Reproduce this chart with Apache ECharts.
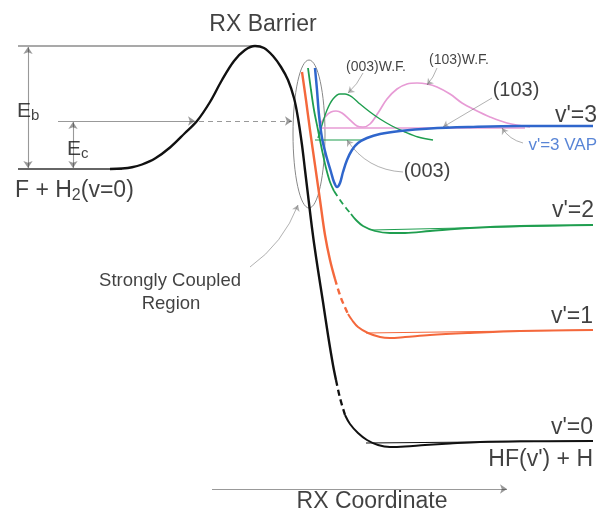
<!DOCTYPE html>
<html><head><meta charset="utf-8">
<script src="https://cdn.jsdelivr.net/npm/echarts@6/dist/echarts.min.js"></script>
<style>html,body{margin:0;padding:0;background:#fff}#c{width:598px;height:515px}</style>
</head><body><div id="c"></div>
<script>
// ---- data (x = reaction coordinate, y = energy; screen-like units, y axis inverted) ----
const reactantLevel = [[18,169],[122,169]];
const barrierTopLine = [[18,46],[252,46]];
const blackA = [[110,169],[122,168.5],[132,167.3],[142,164.5],[155,158.5],[170,147.5],[185,133],[197,121],[210,102],[222,80],[234,61],[245,50],[255,46],[264,48],[273,56],[281,67],[288,80],[294,98],[298,118],[302,145],[305,170],[308,195],[311,220],[314,243],[318,270],[323,302],[328,335],[333,365],[336,380]];
const blackB = [[336,380],[340,398],[345,415]];
const blackC = [[345,415],[350,424],[358,433],[367,440],[378,445],[390,447],[405,446.5],[425,445],[450,443.5],[480,442],[520,441.3],[593,441]];
const v0Line = [[366,443],[593,441]];
const orangeA = [[302,72],[306,100],[310,130],[315,165],[320,200],[325,235],[330,260],[335,279]];
const orangeB = [[335,279],[341,298],[348,314]];
const orangeC = [[348,314],[352,320],[358,327],[368,333],[380,337],[390,338],[405,337],[430,335],[470,333],[520,331],[593,330]];
const v1Line = [[366,333],[593,330]];
const greenA = [[308,68],[311,90],[314,110],[318,130],[322,150],[326,168],[330,182],[334,191]];
const greenB = [[334,191],[340,200],[346,208],[351,214]];
const greenC = [[351,214],[356,220],[363,226],[375,231],[390,233],[405,233],[430,231],[470,228],[520,226],[593,225]];
const v2Line = [[372,230],[593,225]];
const blueCurve = [[315,68],[317,90],[319,115],[322,138],[326,155],[331,172],[334,182],[337,187],[340,183],[343,172],[347,160],[352,150],[358,143],[367,138],[380,134],[400,131],[430,128.5],[470,127],[520,126],[593,126]];
const pinkBase = [[320,128],[525,128]];
const pinkWF = [[319,126],[326,116],[331,112],[336,111],[342,113],[350,120],[357,126],[363,127],[370,124],[378,113],[387,99],[397,89],[407,84],[417,83],[427,84],[437,87],[450,94],[462,103],[475,110],[490,117],[507,123],[530,127]];
const greenBase = [[315,140],[362,140]];
const greenWF = [[318,138],[322,125],[327,110],[333,99],[340,94],[345,94],[352,97],[360,104],[370,112],[380,119],[392,126],[405,132],[418,137],[433,140]];
const coupledEllipse = [[309,134,16,74]]; // centre x, centre y, half-width, half-height
// arrows
const endArrows = [[[58,121],[195,121]],[[212,489],[507,489]]];
const doubleArrows = [[[28,47],[28,168]],[[73,122],[73,168]]];
const dashedArrow = [[[199,121],[292,121]]];
const leaders = [
  {c:[[250,267],[298,205]], k:-0.15},
  {c:[[363,73],[348,93]], k:0.1},
  {c:[[437,68],[427,85]], k:0.1},
  {c:[[492,98],[443,127]], k:0},
  {c:[[403,172],[347,140]], k:0.25},
  {c:[[523,143],[502,128]], k:0.2}
];
// labels: text, x, y
const labelTexts = ['RX Barrier','F + H{s|2}(v=0)','E{s|b}','E{s|c}','Strongly Coupled','Region','(003)W.F.','(103)W.F.','(103)','(003)',"v'=3","v'=3 VAP","v'=2","v'=1","v'=0","HF(v') + H",'RX Coordinate'];
const labelX = [263,15,17,67,170,171,376,459,516,427,597,597,594,593,593,593,372];
const labelY = [25,191,111,149,281,304,67,60,90,171,116,145,211,317,428,460,502];

// ---- styles ----
const FONT = 'Liberation Sans, Arial, Helvetica, sans-serif';
const labelSize = [23,23,21,21,18.5,18.5,14,14,20,20,23,17,23,23,23,23,23];
const labelAlign = ['center','left','left','left','center','center','center','center','center','center','right','right','right','right','right','right','center'];
const labelColor = labelTexts.map(t => t.indexOf('VAP')>=0 ? '#2f66cc' : '#111');
const C = {black:'#111', orange:'#f4683c', green:'#1f9e4f', blue:'#2f66cc', pink:'#e79bd5', gray:'#666'};

function line(data, color, width, type, z) {
  return {type:'line', data, smooth:0.35, showSymbol:false, symbol:'none', silent:true, z:z||3,
    lineStyle:{color, width, type:type||'solid', cap:'butt'}};
}
function lines(list, color, width, symbol, type) {
  return {type:'lines', coordinateSystem:'cartesian2d', silent:true, z:4, symbol, symbolSize:7,
    lineStyle:{color, width, type:type||'solid', curveness:0},
    data:list.map(c => ({coords:c, lineStyle:{curveness:0}}))};
}

const chart = echarts.init(document.getElementById('c'), null, {renderer:'canvas'});
const series = [
  line(reactantLevel, '#333', 1.5, 'solid', 2),
  line(barrierTopLine, '#555', 1.2, 'solid', 2),
  line(v0Line, C.black, 1.1, 'solid', 2),
  line(v1Line, C.orange, 1.1, 'solid', 2),
  line(v2Line, C.green, 1.1, 'solid', 2),
  line(pinkBase, C.pink, 1.4, 'solid', 2),
  line(greenBase, C.green, 1.2, 'solid', 2),
  line(pinkWF, C.pink, 1.7, 'solid', 3),
  line(greenWF, C.green, 1.4, 'solid', 3),
  line(blackA, C.black, 2.4), line(blackB, C.black, 2.3, [6,4]), line(blackC, C.black, 2),
  line(orangeA, C.orange, 2.4), line(orangeB, C.orange, 2.4, [6,4]), line(orangeC, C.orange, 2),
  line(greenA, C.green, 1.8), line(greenB, C.green, 1.8, [6,4]), line(greenC, C.green, 1.8),
  line(blueCurve, C.blue, 2.5, 'solid', 5),
  lines(endArrows, '#333', 1.1, ['none','arrow']),
  lines(doubleArrows, '#333', 1.1, ['arrow','arrow']),
  lines(dashedArrow, '#333', 1.1, ['none','arrow'], [5,4]),
  {type:'lines', coordinateSystem:'cartesian2d', silent:true, z:4, symbol:['none','arrow'], symbolSize:6,
    lineStyle:{color:C.gray, width:1},
    data:leaders.map(l => ({coords:l.c, lineStyle:{curveness:l.k}}))},
  {type:'custom', silent:true, z:2, data:coupledEllipse,
    renderItem(params, api) {
      const c = api.coord([api.value(0), api.value(1)]);
      const s = api.size([api.value(2), api.value(3)]);
      return {type:'ellipse', shape:{cx:c[0], cy:c[1], rx:Math.abs(s[0]), ry:Math.abs(s[1])},
        style:{fill:null, stroke:'#888', lineWidth:1}};
    }},
  {type:'scatter', silent:true, z:10, symbolSize:1, itemStyle:{color:'rgba(0,0,0,0)'},
    data:labelTexts.map((t,i) => ({value:[labelX[i], labelY[i]], label:{
      show:true, position:'inside', formatter:t, fontFamily:FONT, fontSize:labelSize[i],
      color:labelColor[i], align:labelAlign[i], verticalAlign:'middle',
      rich:{s:{fontFamily:FONT, fontSize:Math.round(labelSize[i]*0.7), color:labelColor[i], padding:[Math.round(labelSize[i]*0.45),0,0,0]}}
    }}))}
];
chart.setOption({
  animation:false,
  grid:{left:0, right:0, top:0, bottom:0},
  xAxis:{type:'value', min:0, max:598, show:false},
  yAxis:{type:'value', min:0, max:515, inverse:true, show:false},
  series
});
</script></body></html>
